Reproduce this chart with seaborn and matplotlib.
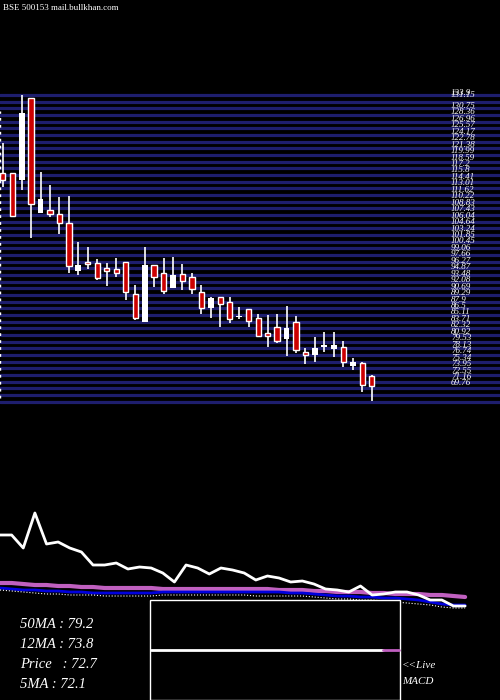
import matplotlib
matplotlib.use("Agg")
import matplotlib.pyplot as plt
import seaborn as sns
import numpy as np
import pandas as pd

opens  = [116.55,116.70,115.11,132.75,107.91,108.56,107.69,105.75,95.52,97.40,97.11,96.03,95.81,97.47,90.41,84.51,96.68,94.95,91.71,94.73,
          94.08,90.84,87.39,89.76,88.83,85.52,87.17,85.23,81.99,83.29,80.84,84.36,78.03,77.24,79.11,78.68,78.96,75.01,75.65,72.84]
highs  = [123.03,116.70,133.47,132.75,116.76,114.03,111.51,111.65,101.64,100.56,98.04,97.25,98.19,97.47,92.43,100.56,96.75,98.19,98.40,96.96,
          94.95,92.43,89.76,89.91,89.76,87.60,87.17,86.16,85.95,86.16,87.89,85.73,78.89,81.12,82.20,82.20,80.33,76.73,75.87,73.00]
lows   = [113.67,107.19,112.95,102.51,107.91,107.19,103.37,94.95,94.59,95.81,93.51,92.28,94.08,89.19,84.87,84.51,92.07,90.41,91.71,91.35,
          90.41,86.09,85.23,83.29,84.15,85.01,83.29,81.27,79.11,79.97,77.16,77.67,75.29,75.87,78.03,76.95,74.79,74.07,69.24,67.44]
closes = [115.11,107.40,129.51,109.85,111.00,107.69,105.75,96.53,96.75,96.89,93.87,95.52,94.95,90.84,85.23,96.75,94.23,91.06,94.52,93.37,
          91.49,87.39,89.55,88.25,85.01,85.73,84.58,81.48,81.34,80.26,83.07,78.39,77.24,78.82,79.25,79.47,75.87,75.87,70.83,70.61]

price_labels = ["133.9","131.15","130.75","128.36","126.96","125.57","124.17","122.78","121.38","119.99","118.59","117.2","115.8",
                "114.41","113.01","111.62","110.22","108.83","107.43","106.04","104.64","103.24","101.85","100.45","99.06","97.66",
                "96.27","94.87","93.48","92.08","90.69","89.29","87.9","86.5","85.11","83.71","82.32","80.92","79.53","78.13",
                "76.74","75.34","73.95","72.55","71.16","69.76"]
price_label_vals = [133.9 - k*1.394 for k in range(len(price_labels))]
price_label_vals[1] = 133.4

white_line = [165,165,152,187,156,158,152,148,135,135,137,131,133,132,127,118,135,132,126,132,130,127,120,124,122,118,119,116,111,110,
              108,114,105,106,108,108,105,100,100,94,94]
magenta_line = [117,117,116,115,115,114,114,113,113,112,112,112,112,112,111,111,111,111,111,111,111,111,111,111,110,110,110,109,109,
                108,108,108,107,107,106,106,106,105,105,104,103]
blue_line = [112,111,110,110,109,109,108,108,107,107,107,107,107,107,108,108,108,108,108,108,108,108,108,108,108,107,107,106,105,104,
             104,103,103,102,102,101,100,98,96,95,95]
dotted_line = [110,109,108,107,106,106,105,105,105,104,104,104,104,104,105,105,105,105,105,105,105,105,104,104,104,104,104,103,102,101,
               101,100,100,99,98,97,96,95,93,92,92]

sns.set_style("dark")
plt.rcParams['font.family'] = ['Liberation Serif', 'DejaVu Serif']

fig = plt.figure(figsize=(5, 7), dpi=100, facecolor='black')
ax = fig.add_axes([0, 0, 1, 1])
ax.set_facecolor('black')
step = 9.46
ax.set_xlim(-2.7/step, (500-2.7)/step)
ax.set_ylim(2.79, 153.99)
ax.axis('off')

for k in range(47):
    ax.axhline(133.5 - k*1.44, color='#1e1e6e', lw=2.3, zorder=1)

x = np.arange(len(opens))
for i in x:
    o, h, l, c = opens[i], highs[i], lows[i], closes[i]
    up = c >= o
    ax.vlines(i, l, h, color='white', lw=1.2, zorder=2)
    bot, top = min(o, c), max(o, c)
    if top - bot < 0.3:
        top = bot + 0.3
    if up:
        ax.bar(i, top - bot, bottom=bot, width=0.62, color='white', edgecolor='white', lw=0, zorder=3)
    else:
        ax.bar(i, top - bot, bottom=bot, width=0.55, color='#cc0000', edgecolor='white', lw=1.0, zorder=3)

for v, t in zip(price_label_vals, price_labels):
    ax.text(451/step - 2.7/step, v, t, color='white', fontsize=6.5, style='italic', va='center', ha='left', zorder=5)

ax.vlines(-0.25, 68, 130, color='white', lw=1, linestyles=(0, (2, 3)), zorder=4)

ax2 = fig.add_axes([0, 0, 1, 1])
ax2.patch.set_alpha(0)
ax2.set_xlim(0, 43)
ax2.set_ylim(0, 700)
ax2.axis('off')
idx = np.arange(len(white_line))
df = pd.DataFrame({'i': idx, 'w': white_line, 'm': magenta_line, 'b': blue_line, 'd': dotted_line})
sns.lineplot(data=df, x='i', y='m', ax=ax2, color='#c060c0', lw=3)
sns.lineplot(data=df, x='i', y='b', ax=ax2, color='#0000dd', lw=2)
sns.lineplot(data=df, x='i', y='d', ax=ax2, color='white', lw=0.8, linestyle=':')
sns.lineplot(data=df, x='i', y='w', ax=ax2, color='white', lw=2)
ax2.set_xlabel(''); ax2.set_ylabel('')

fig.patches.append(plt.Rectangle((150/500, 0), 250/500, 100/700, transform=fig.transFigure,
                                 fill=True, facecolor='black', edgecolor='white', lw=1, zorder=10))
fig.lines.append(plt.Line2D([151/500, 383/500], [50/700, 50/700], transform=fig.transFigure, color='white', lw=2, zorder=11))
fig.lines.append(plt.Line2D([383/500, 399/500], [50/700, 50/700], transform=fig.transFigure, color='#c060c0', lw=2, zorder=11))

for t, yy in [("50MA : 79.2", 75), ("12MA : 73.8", 55), ("Price   : 72.7", 35), ("5MA : 72.1", 15)]:
    fig.text(20/500, yy/700, t, color='white', fontsize=10.5, style='italic', va='center')
fig.text(402/500, 34/700, "<<Live", color='white', fontsize=8, style='italic', va='center')
fig.text(402/500, 19/700, "MACD", color='white', fontsize=8, style='italic', va='center')
fig.text(3/500, 692/700, "BSE 500153 mail.bullkhan.com", color='white', fontsize=6.5, va='center')

fig.savefig("out.png", dpi=100, facecolor='black')
